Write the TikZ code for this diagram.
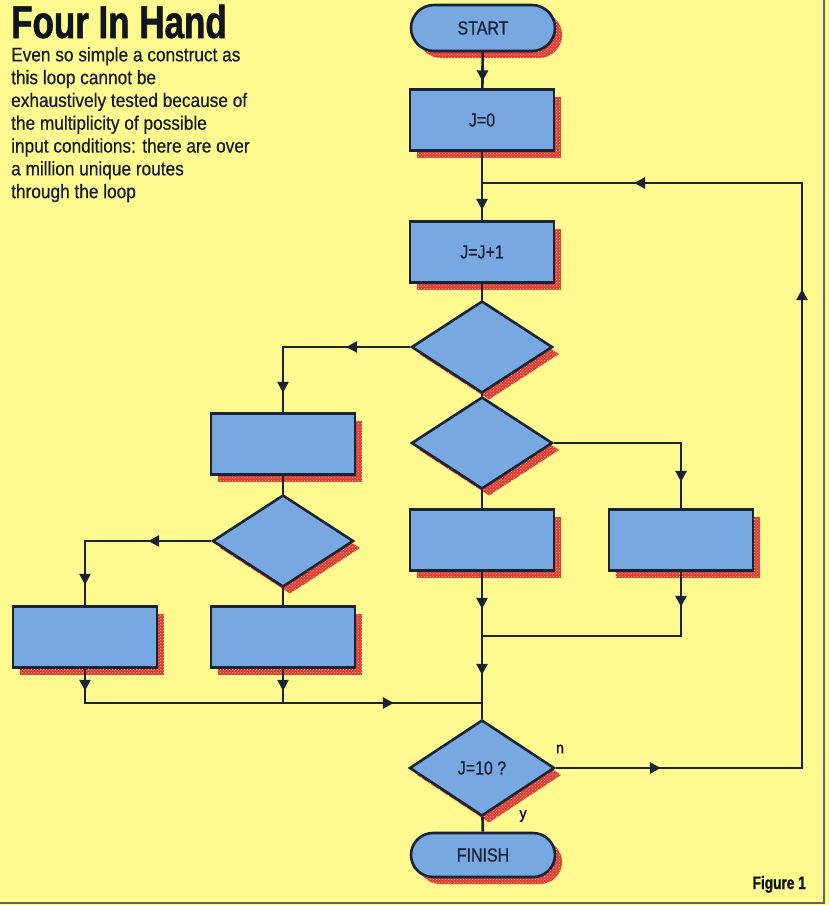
\documentclass[tikz,border=0pt]{standalone}
\usepackage{fontspec}
\setmainfont{Liberation Sans}
\newfontfamily\headfont[FakeStretch=0.76,FakeBold=1.2]{Liberation Sans Bold}
\newfontfamily\boxfont[FakeStretch=0.84,FakeBold=0.8]{Liberation Sans}
\newfontfamily\blurbfont[FakeStretch=0.885,FakeBold=0.4]{Liberation Sans}
\usetikzlibrary{shapes.geometric,shapes.misc,shadows,patterns,decorations.markings,arrows.meta}

\definecolor{paper}{RGB}{255,249,143}
\definecolor{boxblue}{RGB}{120,168,225}
\definecolor{ink}{RGB}{25,35,50}
\definecolor{hatch}{RGB}{228,45,40}

\tikzset{
    hatched/.style={
        general shadow={shadow xshift=7pt,shadow yshift=-7pt,fill=hatch},
        general shadow={shadow xshift=7pt,shadow yshift=-7pt,pattern=crosshatch dots,pattern color=paper!50!white}},
    proc/.style={rectangle,draw=ink,line width=2.6pt,fill=boxblue,hatched,
        minimum width=144pt,minimum height=61pt,inner sep=0pt,
        font=\boxfont\fontsize{19}{21}\selectfont,text=ink},
    term/.style={proc,rounded rectangle,minimum height=46pt},
    test/.style={proc,diamond,minimum width=141pt,minimum height=92pt},
    flow/.style={draw=ink,line width=2.7pt},
    arr/.style={postaction={decorate,decoration={markings,
        mark=at position #1 with {\arrow{Triangle[length=11pt,width=11pt]}}}}}
}

\begin{document}
\begin{tikzpicture}[x=1pt,y=-1pt]
    % page
    \fill[paper] (0,0) rectangle (829,905);
    \useasboundingbox (0,0) rectangle (829,905);
    \draw[ink!70,line width=1.2pt] (824,0) -- (824,903) -- (0,903);

    % caption
    \node[anchor=base west,inner sep=0pt,text=ink!60!black,font=\headfont\fontsize{46}{46}\selectfont] (title) at (11,38) {Four In Hand};
    \node[anchor=north west,inner sep=0pt,align=left,text=ink!80!black,
          font=\blurbfont\fontsize{19.5}{22.8}\selectfont] (blurb) at (11,47)
        {Even so simple a construct as\\ this loop cannot be\\ exhaustively tested because of\\
         the multiplicity of possible\\ input conditions: there are over\\ a million unique routes\\
         through the loop};
    \node[anchor=base east,inner sep=0pt,text=ink!60!black,font=\headfont\fontsize{18}{18}\selectfont] (fig) at (806,889) {Figure 1};

    % flowchart boxes
    \node[term] (start) at (483,28) {START};
    \node[proc] (j0) at (482,120) {J=0};
    \node[proc] (inc) at (482,252) {J=J+1};
    \node[test] (d1) at (482,347) {};
    \node[test] (d2) at (482,443) {};
    \node[proc] (l1) at (283,444) {};
    \node[test] (d3) at (283,541) {};
    \node[proc] (ll) at (85,637) {};
    \node[proc] (lr) at (283,637) {};
    \node[proc] (c) at (482,540) {};
    \node[proc] (r) at (681,540) {};
    \node[test,minimum width=145pt,minimum height=96pt] (test10) at (482,768) {J=10 ?};
    \node[term,minimum height=44pt] (finish) at (483,855) {FINISH};

    % joins
    \coordinate (jtop) at (482,183);
    \coordinate (jloop) at (802,768);
    \coordinate (jright) at (482,636);
    \coordinate (jleft) at (482,703);

    % connectors
    \draw[flow,arr=29pt] (start) -- (j0);
    \draw[flow,arr=58pt] (j0) -- (inc);
    \draw[flow] (inc) -- (d1);
    \draw[flow,arr=64pt,arr=173pt] (d1.west) -| (l1.north);
    \draw[flow] (d1) -- (d2);
    \draw[flow,arr=166pt] (d2.east) -| (r.north);
    \draw[flow] (d2) -- (c);
    \draw[flow] (l1) -- (d3);
    \draw[flow,arr=63pt,arr=170pt] (d3.west) -| (ll.north);
    \draw[flow] (d3) -- (lr);
    \draw[flow,arr=22pt,arr=343pt] (ll.south) |- (jleft);
    \draw[flow,arr=22pt] (lr.south) -- (lr.south |- jleft);
    \draw[flow,arr=35pt] (r.south) |- (jright);
    \draw[flow,arr=37pt,arr=103pt] (c.south) -- (test10.north);
    \draw[flow] (test10) -- (finish);
    \draw[flow,arr=105pt,arr=725pt,arr=999pt] (test10.east) -- (jloop) |- (jtop);

    % branch labels
    \node[font=\blurbfont\fontsize{16}{16}\selectfont] (no) at (560,749) {n};
    \node[font=\blurbfont\fontsize{16}{16}\selectfont] (yes) at (523,816) {y};
\end{tikzpicture}
\end{document}
